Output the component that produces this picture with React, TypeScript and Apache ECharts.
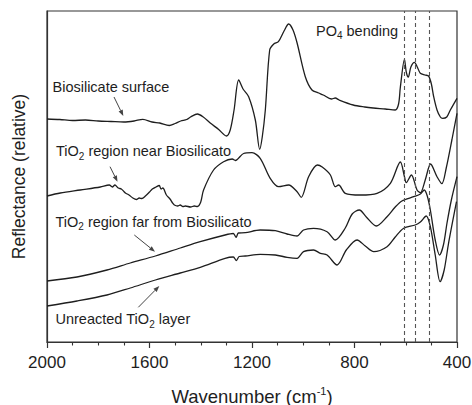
import React, { useEffect, useRef } from "react";
import * as echarts from "echarts";

// Wavenumber (cm^-1) and relative reflectance
const biosilicateX = [2000, 1950, 1900, 1850, 1800, 1750, 1700, 1660, 1626, 1590, 1560, 1523, 1500, 1478, 1455, 1440, 1413, 1390, 1363, 1330, 1300, 1285, 1270, 1252, 1235, 1213, 1187, 1170, 1160, 1148, 1131, 1115, 1097, 1075, 1057, 1040, 1024, 992, 966, 940, 922, 890, 875, 860, 805, 760, 727, 680, 641, 628, 621, 605, 598, 590, 580, 566, 555, 543, 525, 511, 500, 491, 478, 465, 456, 440, 426, 400];
const biosilicateY = [223, 222.5, 221.5, 222, 221, 220.5, 220, 221, 222.7, 220, 219, 216.5, 218.5, 221, 222.5, 225, 228, 225, 219, 212.5, 206, 212, 232, 262, 253, 245.3, 222, 192.7, 205, 232, 292, 298, 300.3, 311, 318, 312, 299, 265.3, 252, 249, 247, 243, 244, 242, 237, 235, 234, 233, 232, 238, 255, 282.7, 270, 265, 275, 279.7, 275, 268.7, 267, 266, 258, 245.3, 232, 225, 223.7, 225, 232, 243.7];

const nearX = [2000, 1948, 1870, 1792, 1757, 1745, 1735, 1722, 1710, 1700, 1694, 1680, 1665, 1651, 1640, 1630, 1616, 1600, 1589, 1575, 1562, 1555, 1548, 1534, 1520, 1510, 1503, 1490, 1480, 1470, 1460, 1440, 1425, 1413, 1400, 1389, 1350, 1311, 1277, 1265, 1233, 1200, 1168, 1129, 1096, 1057, 1024, 1008, 979, 945, 926, 894, 875, 862, 836, 777, 712, 660, 621, 605, 598, 578, 556, 543, 524, 503, 478, 459, 442, 420, 400];
const nearY = [146, 149, 152, 155, 157, 155, 157, 154, 153, 150.5, 149, 147, 144, 142.5, 144, 143.5, 146, 150, 153, 155, 156.5, 153, 154, 147, 143, 139, 137, 136, 137, 135.5, 136, 135, 136, 135.5, 140, 152, 172, 180.3, 183, 181.5, 188.5, 189.3, 183.7, 163.7, 155.3, 157, 150.3, 144.7, 165.3, 177, 175, 167, 155.3, 157, 148.7, 147, 148.7, 158.7, 180, 165.3, 159.3, 167, 152, 149.3, 162, 178, 165.3, 158.3, 174, 202, 228.7];

const farX = [2000, 1883, 1766, 1675, 1577, 1480, 1402, 1305, 1273, 1262, 1253, 1226, 1168, 1109, 1063, 1024, 999, 960, 907, 875, 836, 809, 781, 754, 715, 673, 641, 615, 569, 543, 528, 516, 504, 485, 468, 453, 439, 422, 400];
const farY = [61, 65, 72, 79, 86, 94, 100.3, 107, 108.5, 104.7, 109, 109.3, 112, 111.3, 108, 106, 112, 113.7, 110.3, 102, 114, 128, 132, 125, 116, 125.3, 135, 141, 145.3, 148, 152, 146, 132, 102, 87, 97, 119, 142, 165.3];

const unreactedX = [2000, 1883, 1766, 1675, 1577, 1480, 1402, 1305, 1273, 1261, 1250, 1226, 1168, 1109, 1063, 1024, 999, 960, 933, 907, 868, 832, 790, 758, 725, 673, 641, 608, 563, 543, 520, 504, 485, 466, 450, 433, 402];
const unreactedY = [36, 41, 47, 54, 62, 69, 74.7, 83.7, 85, 81.5, 85.5, 86, 87.7, 87, 84.7, 83.7, 90.3, 92, 88.7, 87, 77, 92, 102, 96, 90.3, 95.3, 105, 113.7, 117, 120, 126, 115.3, 87, 60.3, 72, 98.7, 140.3];

const po4Lines = [605, 563, 507];
const xTicks = { min: 400, max: 2000, interval: 400 };

const FONT = '"Liberation Sans", Arial, Helvetica, sans-serif';
const INK = "#1e1e1e";

function pairs(xs: number[], ys: number[]) {
  return xs.map((x, i) => [x, ys[i]]);
}

function arrow(x1: number, y1: number, x2: number, y2: number) {
  const dx = x2 - x1;
  const dy = y2 - y1;
  const len = Math.sqrt(dx * dx + dy * dy);
  const ux = dx / len;
  const uy = dy / len;
  const hl = 6;
  const hw = 2.3;
  const bx = x2 - ux * hl;
  const by = y2 - uy * hl;
  return [
    {
      type: "line",
      shape: { x1, y1, x2: bx, y2: by },
      style: { stroke: "#444", lineWidth: 1 },
      silent: true,
    },
    {
      type: "polygon",
      shape: {
        points: [
          [x2, y2],
          [bx - uy * hw, by + ux * hw],
          [bx + uy * hw, by - ux * hw],
        ],
      },
      style: { fill: "#444" },
      silent: true,
    },
  ];
}

function label(text: string, x: number, y: number) {
  return {
    type: "text",
    x,
    y,
    silent: true,
    style: {
      text,
      fill: INK,
      fontFamily: FONT,
      fontSize: 14.5,
      align: "left",
      verticalAlign: "middle",
      lineHeight: 20,
      rich: {
        sub: {
          fontFamily: FONT,
          fontSize: 10,
          lineHeight: 6,
          verticalAlign: "bottom",
          fill: INK,
        },
      },
    },
  };
}

export default function App() {
  const ref = useRef<HTMLDivElement>(null);

  useEffect(() => {
    if (!ref.current) return;
    const chart = echarts.init(ref.current, null, { renderer: "svg" });
    const lineSeries = (name: string, xs: number[], ys: number[]) => ({
      name,
      type: "line",
      data: pairs(xs, ys),
      showSymbol: false,
      symbol: "none",
      smooth: 0.3,
      lineStyle: { color: INK, width: 1.3 },
      silent: true,
    });
    chart.setOption({
      animation: false,
      backgroundColor: "#ffffff",
      grid: {
        left: 47,
        right: 15,
        top: 11,
        bottom: 63,
        containLabel: false,
        outerBoundsMode: "none",
        show: true,
        borderColor: "#333",
        borderWidth: 1.2,
      },
      xAxis: {
        type: "value",
        inverse: true,
        min: xTicks.min,
        max: xTicks.max,
        interval: xTicks.interval,
        name: "Wavenumber (cm{sup|-1})",
        nameLocation: "middle",
        nameGap: 43,
        nameTextStyle: {
          fontFamily: FONT,
          fontSize: 18.5,
          color: INK,
          lineHeight: 22,
          rich: {
            sup: { fontFamily: FONT, fontSize: 11, lineHeight: 10, verticalAlign: "top", color: INK },
          },
        },
        axisLine: { show: true, lineStyle: { color: "#333", width: 1.2 } },
        axisTick: { show: true, length: 6, inside: false, lineStyle: { color: "#333", width: 1.2 } },
        minorTick: { show: true, splitNumber: 4, length: 3.5, lineStyle: { color: "#333", width: 1.1 } },
        splitLine: { show: false },
        minorSplitLine: { show: false },
        axisLabel: {
          fontFamily: FONT,
          fontSize: 17,
          color: INK,
          margin: 12,
          showMinLabel: true,
          showMaxLabel: true,
          hideOverlap: false,
          formatter: (v: number) => String(v),
        },
      },
      yAxis: {
        type: "value",
        min: 0,
        max: 331,
        name: "Reflectance (relative)",
        nameLocation: "middle",
        nameGap: 19,
        nameTextStyle: { fontFamily: FONT, fontSize: 17.5, color: INK },
        axisLine: { show: true, lineStyle: { color: "#333", width: 1.2 } },
        axisTick: { show: false },
        axisLabel: { show: false },
        splitLine: { show: false },
      },
      series: [
        {
          ...lineSeries("Biosilicate surface", biosilicateX, biosilicateY),
          markLine: {
            silent: true,
            symbol: ["none", "none"],
            label: { show: false },
            lineStyle: { color: "#555", type: [4, 3], width: 1.1 },
            data: po4Lines.map((v) => ({ xAxis: v })),
          },
        },
        lineSeries("TiO2 region near Biosilicato", nearX, nearY),
        lineSeries("TiO2 region far from Biosilicato", farX, farY),
        lineSeries("Unreacted TiO2 layer", unreactedX, unreactedY),
      ],
      graphic: [
        label("Biosilicate surface", 52.5, 86.5),
        label("TiO{sub|2} region near Biosilicato", 56, 151.2),
        label("TiO{sub|2} region far from Biosilicato", 55.5, 221.6),
        label("Unreacted TiO{sub|2} layer", 55.5, 319),
        label("PO{sub|4} bending", 316, 30.5),
        ...arrow(114, 97, 123.3, 116),
        ...arrow(110, 166.7, 117.5, 181.7),
        ...arrow(134.3, 235, 155, 251.7),
        ...arrow(138.3, 307.3, 159.3, 286),
      ],
    });
    return () => chart.dispose();
  }, []);

  return (
    <div
      ref={ref}
      style={{ position: "absolute", left: 0, top: 0, width: 472, height: 405, background: "#fff" }}
    />
  );
}
